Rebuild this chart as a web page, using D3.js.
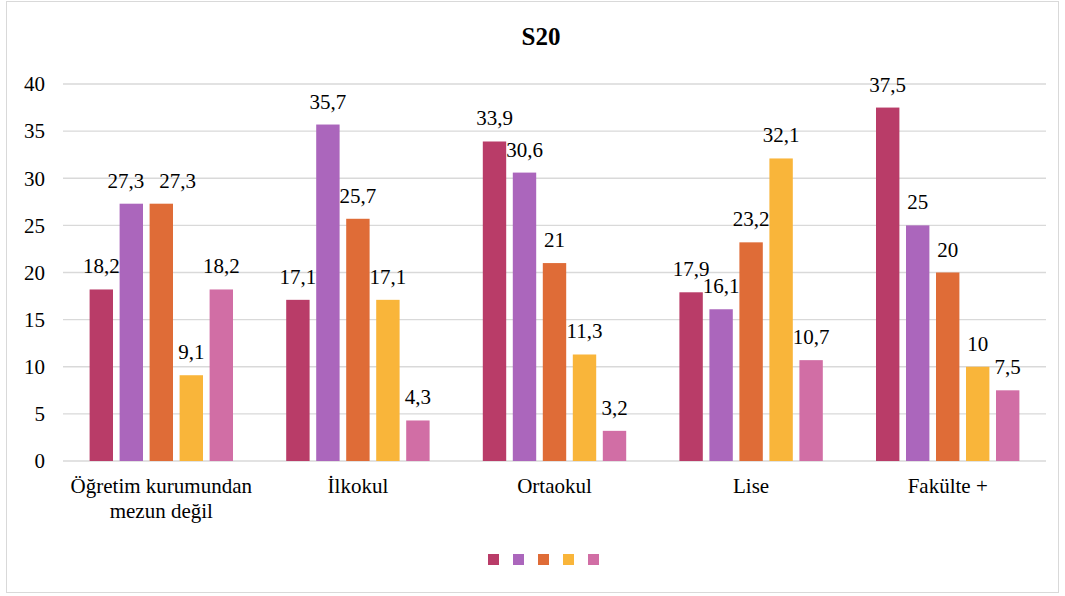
<!DOCTYPE html>
<html><head><meta charset="utf-8">
<script src="https://cdn.jsdelivr.net/npm/d3@7"></script>
<style>body{margin:0;background:#fff;} svg{display:block;}</style>
</head><body>
<svg id="chart" width="1065" height="596"></svg>
<script>
const categories = [["Öğretim kurumundan","mezun değil"],["İlkokul"],["Ortaokul"],["Lise"],["Fakülte +"]];
const series1 = [18.2, 17.1, 33.9, 17.9, 37.5];
const series2 = [27.3, 35.7, 30.6, 16.1, 25];
const series3 = [27.3, 25.7, 21, 23.2, 20];
const series4 = [9.1, 17.1, 11.3, 32.1, 10];
const series5 = [18.2, 4.3, 3.2, 10.7, 7.5];
const yTicks = [0,5,10,15,20,25,30,35,40];
const colors = ["#B93C68","#AB66BC","#DF6C37","#F9B53A","#D16EA5"];
const allSeries = [series1, series2, series3, series4, series5];

(function(){
const FF = "'Liberation Serif'";
const FS = "21px";
const svg = d3.select("#chart");
svg.append("rect").attr("x",6.5).attr("y",1.5).attr("width",1052).attr("height",591)
  .attr("fill","#fff").attr("stroke","#d9d9d9");

const pl=63, pr=1046, pt=84, pb=461;
const x0 = d3.scaleBand().domain(d3.range(categories.length)).range([pl,pr]);
const x1 = d3.scaleBand().domain(d3.range(allSeries.length)).range([-75,75]).paddingInner(0.22).paddingOuter(0.11);
const y = d3.scaleLinear().domain([0,40]).range([pb,pt]);

svg.append("text").attr("x",541).attr("y",45).attr("text-anchor","middle")
  .style("font-family",FF).style("font-weight","bold").style("font-size","25px").text("S20");

const grid = svg.append("g");
yTicks.forEach(t=>{
  grid.append("line").attr("x1",pl).attr("x2",pr).attr("y1",y(t)).attr("y2",y(t))
    .attr("stroke","#d9d9d9").attr("stroke-width",1.3);
  grid.append("text").attr("x",45).attr("y",y(t)).attr("dy","0.35em").attr("text-anchor","end")
    .style("font-family",FF).style("font-size",FS).attr("fill","#000").text(t);
});

const bars = svg.append("g");
const labels = svg.append("g");
categories.forEach((c,i)=>{
  const cx = x0(i)+x0.bandwidth()/2;
  const labs = [];
  allSeries.forEach((s,j)=>{
    const bx = cx + x1(j);
    const bw = x1.bandwidth();
    bars.append("rect").attr("x",bx).attr("y",y(s[i])).attr("width",bw).attr("height",y(0)-y(s[i]))
      .attr("fill",colors[j]);
    const tx = labels.append("text").attr("x",bx+bw/2).attr("y",y(s[i])-16).attr("text-anchor","middle")
      .style("font-family",FF).style("font-size",FS).attr("fill","#000")
      .text(String(s[i]).replace(".",","));
    labs.push({el:tx, x:bx+bw/2, y:y(s[i])-16, w:tx.node().getComputedTextLength()});
  });
  // simple collision avoidance between neighbouring labels
  for(let k=1;k<labs.length;k++){
    const a=labs[k-1], b=labs[k];
    if(Math.abs(a.y-b.y)<16){
      const overlap = (a.x+a.w/2) - (b.x-b.w/2);
      if(overlap > -4){
        const need = overlap + 15;
        a.x -= need*0.25; b.x += need*0.75;
        a.el.attr("x",a.x); b.el.attr("x",b.x);
      }
    }
  }
  const t = svg.append("text").attr("text-anchor","middle").style("font-family",FF).style("font-size",FS);
  c.forEach((line,k)=>{
    t.append("tspan").attr("x",cx).attr("y",493+k*25).text(line);
  });
});

colors.forEach((col,j)=>{
  svg.append("rect").attr("x",488+j*25).attr("y",554).attr("width",11).attr("height",11).attr("fill",col);
});
})();
</script>
</body></html>
